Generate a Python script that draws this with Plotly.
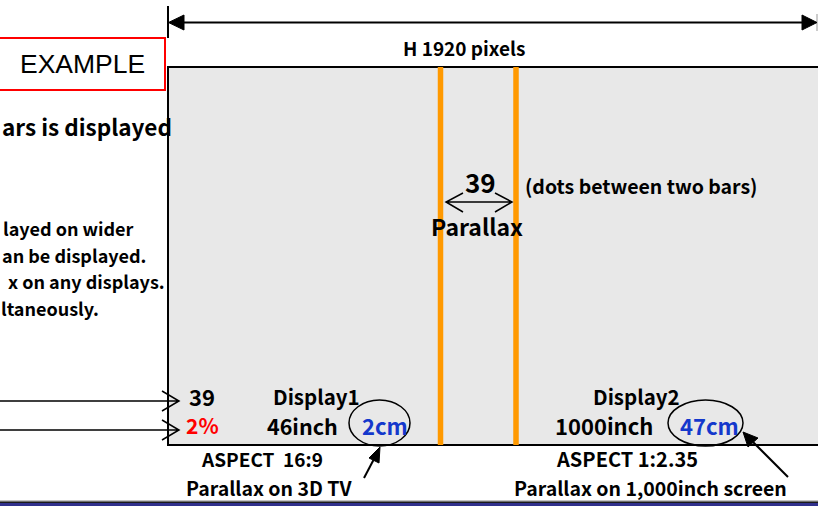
import plotly.graph_objects as go

# ---- data ----
screen_width_label = "H 1920 pixels"
parallax_dots = 39
parallax_percent = "2%"
display_names = ["Display1", "Display2"]
display_sizes = ["46inch", "1000inch"]
parallax_cm = ["2cm", "47cm"]
aspect_labels = ["ASPECT&nbsp;&nbsp;16:9", "ASPECT 1:2.35"]
caption_labels = ["Parallax on 3D TV", "Parallax on 1,000inch screen"]
left_heading = "ars is displayed"
left_notes = [
    "layed on wider",
    "an be displayed.",
    "x on any displays.",
    "ltaneously.",
]

W, H = 818, 506
FONT = "Noto Sans CJK JP"
ORANGE = "#FF9900"
BLUE = "#1438CC"

fig = go.Figure()

# orange bars (the two parallax bars)
bar_x = [440.5, 516]
for bx in bar_x:
    fig.add_trace(go.Scatter(x=[bx, bx], y=[67, 445], mode="lines",
                             line=dict(color=ORANGE, width=5.5),
                             hoverinfo="skip", showlegend=False))

shapes = []
# screen rectangle
shapes.append(dict(type="rect", x0=168, x1=819, y0=67, y1=445,
                   line=dict(color="black", width=2), fillcolor="#E8E8E8", layer="below"))
# EXAMPLE box
shapes.append(dict(type="rect", x0=-2, x1=165, y0=38, y1=90,
                   line=dict(color="#FF0000", width=2), fillcolor="white"))
# top dimension arrow
shapes.append(dict(type="line", x0=168, x1=168, y0=6, y1=38, line=dict(color="black", width=2)))
shapes.append(dict(type="line", x0=817, x1=817, y0=14, y1=31, line=dict(color="#999999", width=1)))
shapes.append(dict(type="line", x0=180, x1=805, y0=22.5, y1=22.5, line=dict(color="black", width=2)))
shapes.append(dict(type="path", path="M 168.5 22.5 L 184 15 L 184 30 Z", fillcolor="black",
                   line=dict(color="black", width=1)))
shapes.append(dict(type="path", path="M 817 22.5 L 802 15 L 802 30 Z", fillcolor="black",
                   line=dict(color="black", width=1)))
# double headed parallax arrow
shapes.append(dict(type="path",
                   path="M 446 202 L 512 202 M 463 193 L 446 202 L 463 212 M 495 193 L 512 202 L 495 212",
                   line=dict(color="black", width=1.5)))
# left incoming arrows
for yy in [401, 430]:
    shapes.append(dict(type="path",
                       path=f"M -2 {yy} L 179 {yy} M 162 {yy-10} L 179 {yy} L 162 {yy+10}",
                       line=dict(color="black", width=1.5)))
# ellipses around parallax in cm
shapes.append(dict(type="circle", x0=349, x1=410, y0=400, y1=446, line=dict(color="black", width=1.5)))
shapes.append(dict(type="circle", x0=668, x1=743, y0=400, y1=446, line=dict(color="black", width=1.5)))
# pointer arrows from captions
shapes.append(dict(type="path", path="M 364 478 L 374 459", line=dict(color="black", width=2)))
shapes.append(dict(type="path", path="M 380 447 L 369 458 L 379 463 Z", fillcolor="black",
                   line=dict(color="black", width=1)))
shapes.append(dict(type="path", path="M 788 477 L 753 442", line=dict(color="black", width=2)))
shapes.append(dict(type="path", path="M 743 432 L 748 447 L 758 438 Z", fillcolor="black",
                   line=dict(color="black", width=1)))
# bottom band
shapes.append(dict(type="rect", x0=-2, x1=820, y0=500.5, y1=501.5, line=dict(width=0), fillcolor="#8A8A8A"))
shapes.append(dict(type="rect", x0=-2, x1=820, y0=501.5, y1=503, line=dict(width=0), fillcolor="#1A1A1A"))
shapes.append(dict(type="rect", x0=-2, x1=820, y0=503, y1=508, line=dict(width=0), fillcolor="#30308C"))

ann = []
def txt(x, y, s, size, color="black", xanchor="center", bold=True, font=FONT):
    ann.append(dict(x=x, y=y, text=(f"<b>{s}</b>" if bold else s), showarrow=False,
                    xanchor=xanchor, yanchor="middle", borderpad=0,
                    font=dict(family=font, size=size, color=color)))

txt(464, 47, screen_width_label, 19)
txt(82, 64, "EXAMPLE", 26.5, bold=False, font="Liberation Sans")
txt(173, 126, left_heading, 22.5, xanchor="right")
for i, line in enumerate(left_notes):
    txt([135, 147, 166, 100][i], 228 + i * 26.5, line, 18, xanchor="right")

txt(480, 181, str(parallax_dots), 26)
txt(524, 185, "(dots between two bars)", 19.5, xanchor="left")
txt(477, 226, "Parallax", 23)

txt(202, 396, str(parallax_dots), 22)
txt(202, 425, parallax_percent, 21, color="#FF0000")
txt(316, 396, display_names[0], 20.5)
txt(302, 425, display_sizes[0], 21.5)
txt(385, 425, parallax_cm[0], 22, color=BLUE)
txt(262, 458.5, aspect_labels[0], 19)
txt(269, 487.5, caption_labels[0], 19.5)

txt(636, 396, display_names[1], 20.5)
txt(604, 425, display_sizes[1], 22)
txt(709, 425, parallax_cm[1], 22, color=BLUE)
txt(627, 458.5, aspect_labels[1], 20)
txt(650, 487.5, caption_labels[1], 19.5)

fig.update_layout(
    width=W, height=H, margin=dict(l=0, r=0, t=0, b=0, autoexpand=False),
    paper_bgcolor="white", plot_bgcolor="white",
    xaxis=dict(range=[0, W], visible=False, fixedrange=True),
    yaxis=dict(range=[H, 0], visible=False, fixedrange=True),
    shapes=shapes, annotations=ann, showlegend=False,
)
fig.write_html("out.html", config={"displayModeBar": False},
               post_script="document.body.style.margin='0';document.body.style.overflow='hidden';")
